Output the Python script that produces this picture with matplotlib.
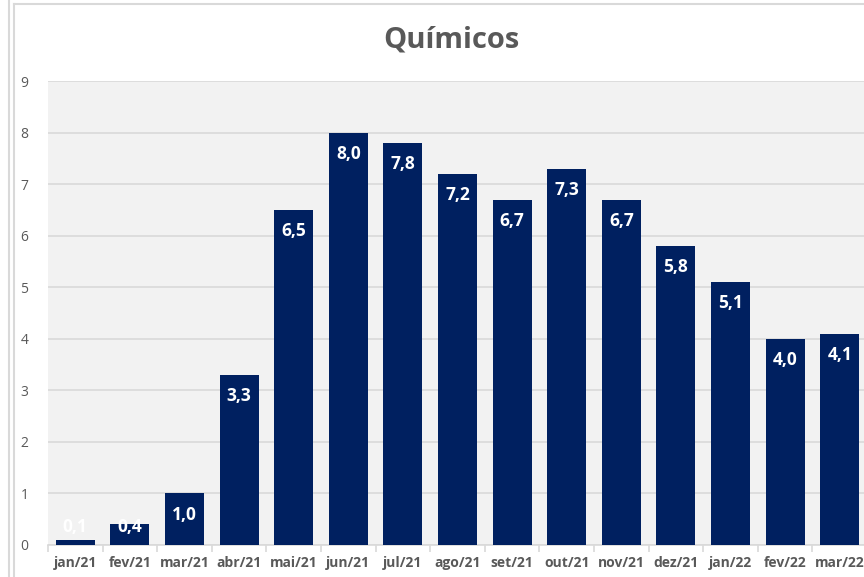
import matplotlib.pyplot as plt
import numpy as np

# monthly values, chemicals sector
months = ["jan/21", "fev/21", "mar/21", "abr/21", "mai/21", "jun/21", "jul/21",
          "ago/21", "set/21", "out/21", "nov/21", "dez/21", "jan/22", "fev/22", "mar/22"]
values = [0.1, 0.4, 1.0, 3.3, 6.5, 8.0, 7.8, 7.2, 6.7, 7.3, 6.7, 5.8, 5.1, 4.0, 4.1]
yticks = list(range(0, 10))

navy = "#002060"
grey_txt = "#595959"
grid_c = "#d9d9d9"

plt.rcParams['font.family'] = ['Open Sans', 'DejaVu Sans']

fig = plt.figure(figsize=(8.64, 5.77), dpi=100)

# outer panel borders
fig.add_artist(plt.Line2D([8.5 / 864, 8.5 / 864], [0, 1], color=grid_c, lw=1.5))
fig.add_artist(plt.Line2D([14 / 864, 14 / 864], [0, 1 - 4 / 577], color=grid_c, lw=1.5))
fig.add_artist(plt.Line2D([14 / 864, 1], [1 - 4 / 577, 1 - 4 / 577], color=grid_c, lw=1.5))

ax = fig.add_axes([48 / 864, 32 / 577, 819 / 864, 464 / 577])
ax.set_facecolor("#f2f2f2")

x = np.arange(len(months))
ax.bar(x, values, width=0.715, color=navy, zorder=3)

for xi, v in zip(x, values):
    ypos = max(v - 0.41, 0.35)
    ax.text(xi, ypos, f"{v:.1f}".replace(".", ","), ha="center", va="center",
            color="white", fontsize=12.5, fontweight="bold", zorder=4)

ax.set_xlim(-0.5, len(months) - 0.5)
ax.set_ylim(0, 9)
ax.set_yticks(yticks)
ax.yaxis.grid(True, color=grid_c, lw=1.2, zorder=0)
ax.set_axisbelow(True)

ax.set_xticks(x)
ax.set_xticklabels(months, fontweight="bold", color=grey_txt, fontsize=10)
ax.set_xticks(np.arange(-0.5, len(months), 1), minor=True)
ax.tick_params(axis="x", which="major", length=0, pad=8)
ax.tick_params(axis="x", which="minor", length=5, color=grid_c, width=1.2)
ax.tick_params(axis="y", length=0, pad=14, labelcolor=grey_txt, labelsize=10)

for s in ["top", "right", "left"]:
    ax.spines[s].set_visible(False)
ax.spines["bottom"].set_color(grid_c)
ax.spines["bottom"].set_linewidth(1.2)

fig.text(451 / 864, 1 - 40 / 577, "Químicos", ha="center", va="center",
         fontsize=21, fontweight="bold", color=grey_txt)

fig.savefig("out.png", dpi=100)
